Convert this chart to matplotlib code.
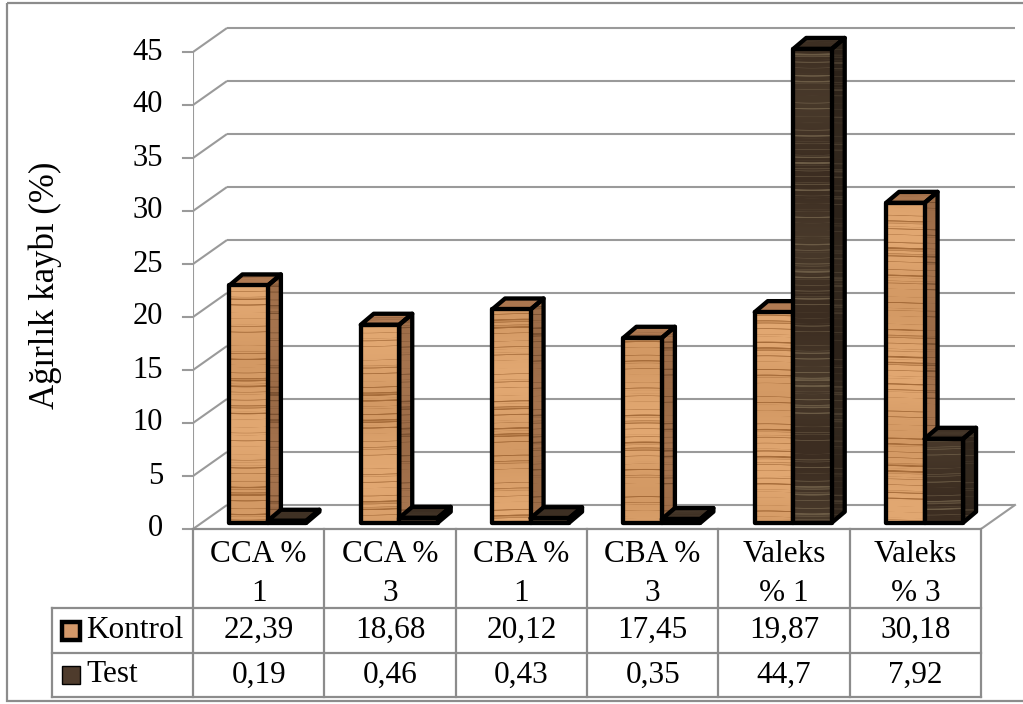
"""Weight loss (%) of wood samples: control vs. test, drawn as a 3-D column
chart with an attached data table."""

import matplotlib.pyplot as plt
import matplotlib.transforms as mtransforms
import numpy as np
from matplotlib.patches import Polygon, Rectangle

categories = ["CCA %\n1", "CCA %\n3", "CBA %\n1", "CBA %\n3", "Valeks\n% 1", "Valeks\n% 3"]
series_names = ["Kontrol", "Test"]
kontrol = [22.39, 18.68, 20.12, 17.45, 19.87, 30.18]
test = [0.19, 0.46, 0.43, 0.35, 44.7, 7.92]
y_ticks = [0, 5, 10, 15, 20, 25, 30, 35, 40, 45]
y_label = "Ağırlık kaybı (%)"

W, H = 1023, 704
FONT = "Liberation Serif"
GRID = "#9a9a9a"

# front plane of the plot, in pixels
X0_PX, X1_PX = 193, 981
Y0_PX, Y45_PX = 529, 52
PX_X = (X1_PX - X0_PX) / len(categories)
PX_Y = (Y0_PX - Y45_PX) / 45.0

XMAX, YMAX = 6.3, 50.0

# wall depth and bar depth (pixels)
WALL_DX, WALL_DY = 34, 24
BAR_SHIFT = 0.26  # fraction of wall depth where bar fronts sit
BAR_DX, BAR_DY = 13, 11
BAR_W = 0.293
BAR_START = 0.21

PAL = {
    "Kontrol": dict(front=((226, 168, 114), (166, 108, 58)),
                    side=((166, 116, 78), (122, 80, 48)),
                    top=((178, 124, 84), (150, 102, 66)),
                    key="#d4996a", key_lw=3.2),
    "Test": dict(front=((60, 45, 33), (108, 92, 70)),
                 side=((44, 34, 25), (72, 60, 46)),
                 top=((60, 46, 34), (74, 60, 46)),
                 key="#4e3b2c", key_lw=1.0),
}


def grain(rows, cols, light, dark, phase):
    """Horizontal wood-grain texture, rows/cols in pixels."""
    r = np.arange(rows)[:, None].astype(float)
    c = np.arange(cols)[None, :].astype(float)
    y = r + 0.5 * np.sin(c / 13.0 + phase)
    band = (np.sin(y * 0.93 + phase) + 0.7 * np.sin(y * 2.31 + 1.9 * phase)
            + 0.6 * np.sin(y * 0.23 + 3.0 * phase) + 0.4 * np.sin(y * 0.057 + phase))
    g = np.clip((band - 0.5) / 1.6, 0, 1)
    g = g + 0.12 * (1 + np.sin(y * 0.045 + 2.2 * phase))
    g = np.clip(g, 0, 1)
    light = np.array(light) / 255.0
    dark = np.array(dark) / 255.0
    return light * (1 - g[..., None]) + dark * g[..., None]


def textured_face(ax, pts, colors, phase, zorder):
    pts = np.asarray(pts)
    xs, ys = pts[:, 0], pts[:, 1]
    x0, x1, y0, y1 = xs.min(), xs.max(), ys.min(), ys.max()
    rows = max(2, int((y1 - y0) * PX_Y) + 1)
    cols = max(2, int((x1 - x0) * PX_X) + 1)
    tex = grain(rows, cols, colors[0], colors[1], phase)
    poly = Polygon(pts, closed=True, facecolor="none", edgecolor="none")
    ax.add_patch(poly)
    im = ax.imshow(tex, extent=(x0, x1, y0, y1), origin="lower", aspect="auto",
                   interpolation="bilinear", zorder=zorder)
    im.set_clip_path(poly)
    ax.add_patch(Polygon(pts, closed=True, facecolor="none", edgecolor="black",
                         lw=3.1, joinstyle="round", zorder=zorder + 0.1))


def draw_bar(ax, left, value, pal, phase, zorder):
    sx = BAR_SHIFT * WALL_DX / PX_X
    sy = BAR_SHIFT * WALL_DY / PX_Y
    bx, by = BAR_DX / PX_X, BAR_DY / PX_Y
    xa, xb = left + sx, left + BAR_W + sx
    yb, yt = sy, value + sy
    side = [(xb, yb), (xb + bx, yb + by), (xb + bx, yt + by), (xb, yt)]
    top = [(xa, yt), (xb, yt), (xb + bx, yt + by), (xa + bx, yt + by)]
    front = [(xa, yb), (xb, yb), (xb, yt), (xa, yt)]
    textured_face(ax, side, pal["side"], phase + 0.7, zorder)
    textured_face(ax, top, pal["top"], phase + 1.3, zorder)
    textured_face(ax, front, pal["front"], phase, zorder + 0.2)


fig = plt.figure(figsize=(W / 100, H / 100), dpi=100)
ax = fig.add_axes([X0_PX / W, 1 - Y0_PX / H, XMAX * PX_X / W, YMAX * PX_Y / H])
ax.axis("off")

# pixel transform for figure furniture (origin top-left)
px = mtransforms.Affine2D().scale(1 / W, -1 / H).translate(0, 1) + fig.transFigure
col_tr = mtransforms.blended_transform_factory(ax.transData, px)

# outer chart border
fig.add_artist(Rectangle((7, 3), W + 20, 698, transform=px, fill=False,
                         edgecolor="#8c8c8c", lw=1.6))

# walls: left diagonal + back gridlines
dx, dy = WALL_DX / PX_X, WALL_DY / PX_Y
n = len(categories)
for v in y_ticks:
    ax.plot([0, dx], [v, v + dy], color=GRID, lw=1.5, zorder=1, solid_capstyle="butt")
    ax.plot([dx, n + dx], [v + dy, v + dy], color=GRID, lw=1.5, zorder=1,
            solid_capstyle="butt")
ax.plot([n, n + dx], [0, dy], color=GRID, lw=1.5, zorder=1)

# front value axis with ticks and labels
ax.plot([0, 0], [0, 45], color=GRID, lw=1.5, zorder=1)
tick_off = mtransforms.ScaledTranslation(-10 / 100, 0, fig.dpi_scale_trans)
lab_off = mtransforms.ScaledTranslation(-30 / 100, 0, fig.dpi_scale_trans)
for v in y_ticks:
    ax.add_line(plt.Line2D([0, 10 / PX_X], [v, v], color=GRID, lw=1.5,
                           transform=ax.transData + tick_off, clip_on=False))
    ax.text(0, v, str(v), transform=ax.transData + lab_off, ha="right",
            va="center", fontsize=22, family=FONT)

fig.text(45 / W, 1 - 285 / H, y_label, rotation=90, ha="center", va="center",
         fontsize=25, family=FONT)

# bars
for i in range(n):
    draw_bar(ax, i + BAR_START, kontrol[i], PAL["Kontrol"], 0.9 * i + 0.3, 3 + i)
    draw_bar(ax, i + BAR_START + BAR_W, test[i], PAL["Test"], 1.1 * i + 2.0, 3.5 + i)

ax.set_xlim(0, XMAX)
ax.set_ylim(0, YMAX)

# data table
T_TOP, T_HEAD, T_ROW1, T_BOT = Y0_PX, 608, 653, 697
T_LEFT = 52
tbl = dict(color="#8c8c8c", lw=1.6, clip_on=False)
fig.add_artist(plt.Line2D([0, n], [T_TOP, T_TOP], transform=col_tr, **tbl))
for i in range(n + 1):
    fig.add_artist(plt.Line2D([i, i], [T_TOP, T_BOT], transform=col_tr, **tbl))
for yy in (T_HEAD, T_ROW1, T_BOT):
    fig.add_artist(plt.Line2D([T_LEFT, X1_PX], [yy, yy], transform=px, **tbl))
fig.add_artist(plt.Line2D([T_LEFT, T_LEFT], [T_HEAD, T_BOT], transform=px, **tbl))

for i, cat in enumerate(categories):
    fig.text(i + 0.5, 574, cat, transform=col_tr, ha="center",
             va="center", fontsize=22.5, family=FONT, linespacing=1.45)
rows = [(T_HEAD + T_ROW1) / 2, (T_ROW1 + T_BOT) / 2]
for name, vals, yy in zip(series_names, [kontrol, test], rows):
    for i, v in enumerate(vals):
        fig.text(i + 0.5, yy, f"{v:g}".replace(".", ","), transform=col_tr,
                 ha="center", va="center", fontsize=22.5, family=FONT)
    pal = PAL[name]
    fig.add_artist(Rectangle((62, yy - 9), 18, 18, transform=px,
                             facecolor=pal["key"], edgecolor="black",
                             lw=pal["key_lw"]))
    fig.text(86 / W, 1 - yy / H, name, ha="left", va="center", fontsize=22.5,
             family=FONT)

fig.savefig("out.png", dpi=100)
